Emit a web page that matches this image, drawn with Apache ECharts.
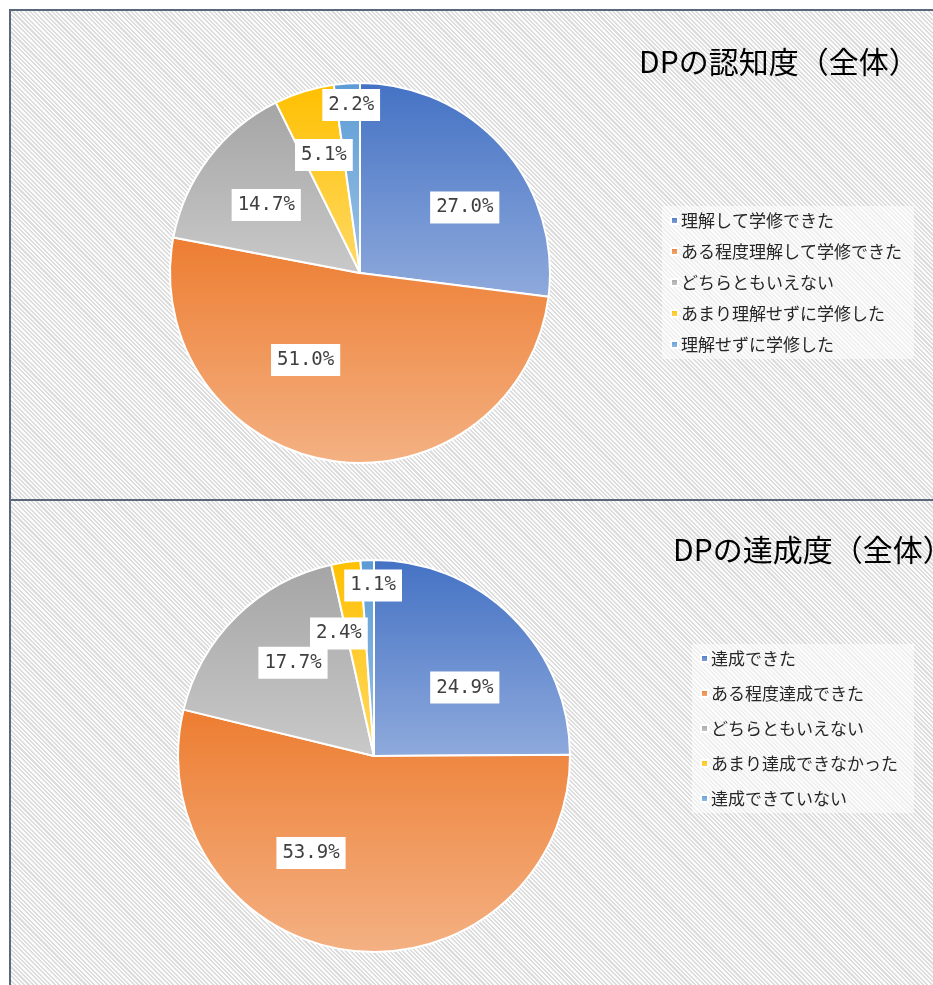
<!DOCTYPE html>
<html>
<head>
<meta charset="utf-8">
<title></title>
<script type="text/javascript" src="https://cdn.jsdelivr.net/npm/echarts@6/dist/echarts.min.js"></script>
<style>
  html, body { margin: 0; padding: 0; background: #fff; overflow: hidden; }
  .panel {
    position: absolute; left: 9px; width: 940px;
    border-left: 2px solid #5b677a; border-top: 2px solid #5b677a;
    background: repeating-linear-gradient(45deg, #fbfbfb 0 1.6px, #dcdcdc 1.6px 3.1px);
  }
  #main { position: absolute; left: 0; top: 0; width: 933px; height: 985px; }
</style>
</head>
<body>
<div class="panel" style="top: 9px; height: 489px;"></div>
<div class="panel" style="top: 499px; height: 500px;"></div>
<div id="main"></div>

<script type="text/javascript">
// 認知度
var names1 = ['理解して学修できた', 'ある程度理解して学修できた', 'どちらともいえない', 'あまり理解せずに学修した', '理解せずに学修した'];
var values1 = [27.0, 51.0, 14.7, 5.1, 2.2];
// 達成度
var names2 = ['達成できた', 'ある程度達成できた', 'どちらともいえない', 'あまり達成できなかった', '達成できていない'];
var values2 = [24.9, 53.9, 17.7, 2.4, 1.1];

// 色（上 -> 下 のグラデーション）
var baseColors = ['#4472C4', '#ED7D31', '#A5A5A5', '#FFC000', '#5B9BD5'];
var lightColors = ['#8FAADC', '#F4B183', '#C9C9C9', '#FFD966', '#9DC3E6'];

// ラベル位置（角度：12時から時計回り、半径比）
var labelAng1 = [58, 212, 306, 343, 357];
var labelRad1 = [0.65, 0.54, 0.61, 0.65, 0.885];
var labelAng2 = [53, 213, 319, 344, 359.7];
var labelRad2 = [0.58, 0.59, 0.63, 0.65, 0.87];

var pies = [
  { center: [360, 273], r: 190, ang: labelAng1, rad: labelRad1 },
  { center: [374, 756], r: 196, ang: labelAng2, rad: labelRad2 }
];

function buildData(names, values) {
  var arr = [];
  for (var i = 0; i < names.length; i++) {
    arr.push({
      name: names[i],
      value: values[i],
      itemStyle: {
        color: new echarts.graphic.LinearGradient(0, 0, 0, 1, [
          { offset: 0, color: baseColors[i] },
          { offset: 1, color: lightColors[i] }
        ])
      }
    });
  }
  return arr;
}

function pieSeries(idx, names, values) {
  var p = pies[idx];
  return {
    type: 'pie',
    center: p.center,
    radius: p.r,
    startAngle: 90,
    clockwise: true,
    avoidLabelOverlap: false,
    itemStyle: { borderColor: '#fff', borderWidth: 2 },
    label: {
      show: true,
      position: 'inside',
      formatter: function (d) { return d.value.toFixed(1) + '%'; },
      backgroundColor: '#fff',
      padding: [7, 6, 6, 6],
      color: '#404040',
      fontFamily: 'DejaVu Sans Mono',
      fontSize: 19
    },
    labelLine: { show: false },
    emphasis: { disabled: true },
    labelLayout: function (params) {
      var a = p.ang[params.dataIndex] * Math.PI / 180;
      var rr = p.rad[params.dataIndex] * p.r;
      return {
        x: p.center[0] + rr * Math.sin(a),
        y: p.center[1] - rr * Math.cos(a)
      };
    },
    data: buildData(names, values)
  };
}

var myChart = echarts.init(document.getElementById('main'));
myChart.setOption({
  backgroundColor: 'transparent',
  animation: false,
  title: [
    { text: 'DPの認知度（全体）', left: 634, top: 42,
      textStyle: { fontFamily: 'Noto Sans CJK JP', fontSize: 30, fontWeight: 'normal', color: '#000' } },
    { text: 'DPの達成度（全体）', left: 668, top: 530,
      textStyle: { fontFamily: 'Noto Sans CJK JP', fontSize: 30, fontWeight: 'normal', color: '#000' } }
  ],
  legend: [
    { data: names1, orient: 'vertical', left: 662, top: 206, itemGap: 14,
      icon: 'rect', itemWidth: 7, itemHeight: 7, padding: [6, 12, 6, 8],
      backgroundColor: 'rgba(255,255,255,0.55)', selectedMode: false,
      textStyle: { fontFamily: 'Noto Sans CJK JP', fontSize: 17, color: '#262626', padding: [0, 0, 0, -2] } },
    { data: names2, orient: 'vertical', left: 692, top: 644, itemGap: 18,
      icon: 'rect', itemWidth: 7, itemHeight: 7, padding: [6, 16, 6, 8],
      backgroundColor: 'rgba(255,255,255,0.55)', selectedMode: false,
      textStyle: { fontFamily: 'Noto Sans CJK JP', fontSize: 17, color: '#262626', padding: [0, 0, 0, -2] } }
  ],
  series: [
    pieSeries(0, names1, values1),
    pieSeries(1, names2, values2)
  ]
});
</script>
</body>
</html>
